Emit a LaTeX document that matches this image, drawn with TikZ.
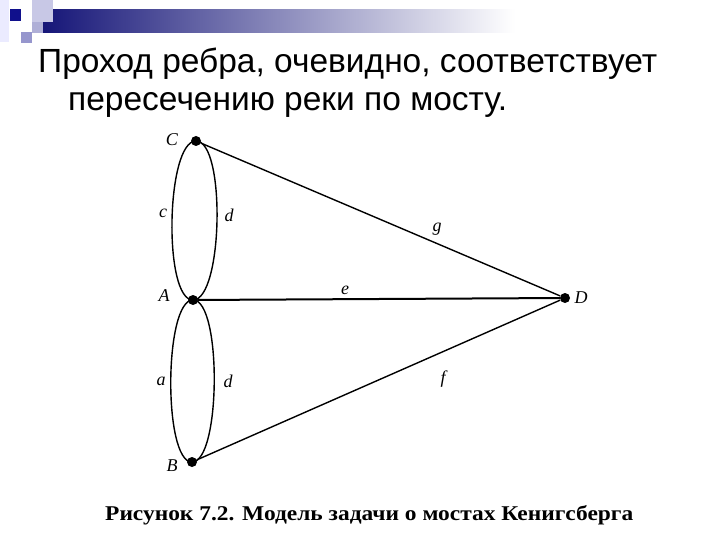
\documentclass[tikz,border=0pt]{standalone}
\usepackage{fontspec}
\setmainfont{Liberation Serif}
\newfontfamily\headfont{Liberation Sans}
\definecolor{navy}{RGB}{22,22,120}
\definecolor{sqlight}{RGB}{200,200,230}
\definecolor{sqmid}{RGB}{175,175,215}
\definecolor{sqdark}{RGB}{16,16,140}
\definecolor{sqmed}{RGB}{150,150,205}
\begin{document}
\begin{tikzpicture}[x=1pt,y=-1pt,
  dot/.style={circle,fill=black,inner sep=0pt,minimum size=10pt},
  edge/.style={line width=1.4pt,black},
  lbl/.style={font=\fontsize{18}{18}\selectfont\itshape,inner sep=0pt}]
\useasboundingbox (0,0) rectangle (720,540);
% decoration
\fill[white] (0,0) rectangle (720,540);
\fill[blue!8!white] (0,0) rectangle (9,42);
\shade[left color=navy, right color=white] (43,10) rectangle (515,33);
\fill[sqlight] (32,0) rectangle (53,22);
\fill[sqmid] (32,22) rectangle (43,33);
\fill[sqdark] (10,9) rectangle (21,21);
\fill[sqmed] (21,32) rectangle (32,43);
% heading
\node[anchor=base west,inner sep=0pt,font=\headfont\fontsize{33.5}{38}\selectfont] (l1) at (38,73) {Проход ребра, очевидно, соответствует};
\node[anchor=base west,inner sep=0pt,font=\headfont\fontsize{33.5}{38}\selectfont] (l2) at (68,111) {пересечению реки по мосту.};
% graph
\node[dot] (C) at (196,141) {};
\node[dot] (A) at (193,300) {};
\node[dot] (B) at (192,462) {};
\node[dot] (D) at (565,298) {};
\draw[edge] (C.center) .. controls +(-30,0) and +(-30,0) .. (A.center);
\draw[edge] (C.center) .. controls +(30,0) and +(30,0) .. (A.center);
\draw[edge] (A.center) .. controls +(-29,0) and +(-29,0) .. (B.center);
\draw[edge] (A.center) .. controls +(29,0) and +(29,0) .. (B.center);
\draw[edge] (C) -- (D);
\draw[edge,line width=2pt] (A) -- (D);
\draw[edge] (B) -- (D);
\node[lbl] (lC) at (172,140) {C};
\node[lbl] (lA) at (164,296) {A};
\node[lbl] (lB) at (172,466) {B};
\node[lbl] (lD) at (581,298) {D};
\node[lbl] (lc) at (163,213) {c};
\node[lbl] (ld1) at (229,215) {d};
\node[lbl] (lg) at (437,229) {g};
\node[lbl] (le) at (345,290) {e};
\node[lbl] (la) at (161,381) {a};
\node[lbl] (ld2) at (228,381) {d};
\node[lbl] (lf) at (443,379) {f};
% caption
\node[anchor=base west,inner sep=0pt,font=\bfseries\fontsize{21}{24}\selectfont] (cap) at (105,520) {\scalebox{1.115}[1]{Рисунок 7.2. Модель задачи о мостах Кенигсберга}};
\end{tikzpicture}
\end{document}
